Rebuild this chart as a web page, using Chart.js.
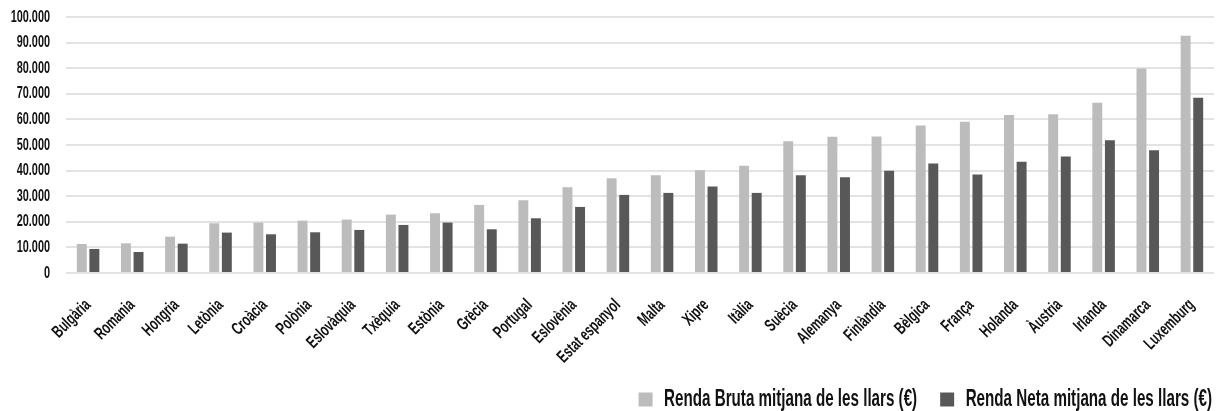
<!DOCTYPE html>
<html><head><meta charset="utf-8">
<script src="https://cdn.jsdelivr.net/npm/chart.js@4"></script>
<style>html,body{margin:0;padding:0;background:#fff}#wrap{width:1216px;height:411px;position:relative}</style>
</head><body><div id="wrap"><canvas id="c"></canvas></div>
<script>
const categories = ["Bulgària","Romania","Hongria","Letònia","Croàcia","Polònia","Eslovàquia","Txèquia","Estònia","Grècia","Portugal","Eslovènia","Estat espanyol","Malta","Xipre","Itàlia","Suècia","Alemanya","Finlàndia","Bèlgica","França","Holanda","Àustria","Irlanda","Dinamarca","Luxemburg"];
const grossIncome = [11340,11600,14200,19430,19690,20470,20860,22820,23340,26600,28420,33510,37030,38200,40160,41850,51500,53190,53320,57630,59060,61670,62060,66490,79920,92700];
const netIncome = [9390,8210,11470,15780,15120,15900,16820,18770,19690,17080,21380,25810,30510,31290,33770,31290,38200,37420,39900,42760,38460,43420,45500,51890,47980,68450];
const seriesNames = ["Renda Bruta mitjana de les llars (€)","Renda Neta mitjana de les llars (€)"];
const yTicks = [0,10000,20000,30000,40000,50000,60000,70000,80000,90000,100000];

const FONT = "'Liberation Sans', Arial, sans-serif";
const SX = 0.66; // horizontal squeeze to imitate the condensed typeface
function fmt(v){return String(v).replace(/\B(?=(\d{3})+(?!\d))/g,'.');}

const condense = {
  id:'condense',
  beforeInit(chart){
    const ctx = chart.ctx;
    const of = ctx.fillText.bind(ctx), om = ctx.measureText.bind(ctx);
    ctx.fillText = function(t,x,y,mw){
      ctx.save(); ctx.translate(x,y); ctx.scale(SX,1);
      if(mw!==undefined) of(t,0,0,mw/SX); else of(t,0,0);
      ctx.restore();
    };
    ctx.measureText = function(t){
      const m = om(t);
      return {width:m.width*SX, actualBoundingBoxAscent:m.actualBoundingBoxAscent, actualBoundingBoxDescent:m.actualBoundingBoxDescent, actualBoundingBoxLeft:m.actualBoundingBoxLeft*SX, actualBoundingBoxRight:m.actualBoundingBoxRight*SX};
    };
  },
  beforeUpdate(chart){
    const lg = chart.legend;
    if(lg && !lg._wrapped){
      const f = lg.fit.bind(lg), d = lg.draw.bind(lg);
      lg.fit = function(){ f(); this.height = 46; };
      lg.draw = function(){ this.right += 21; d(); this.right -= 21; };
      lg._wrapped = true;
    }
  }
};

new Chart(document.getElementById('c'),{
  type:'bar',
  data:{labels:categories,datasets:[
    {label:seriesNames[0],data:grossIncome,backgroundColor:'#bcbcbc',categoryPercentage:0.57,barPercentage:0.79},
    {label:seriesNames[1],data:netIncome,backgroundColor:'#585858',categoryPercentage:0.57,barPercentage:0.79}
  ]},
  plugins:[condense],
  options:{
    responsive:true,maintainAspectRatio:false,animation:false,
    layout:{padding:{top:17,right:2,left:0,bottom:0}},
    plugins:{
      tooltip:{enabled:false},
      legend:{position:'bottom',align:'end',labels:{boxWidth:14,boxHeight:14,padding:23,color:'#111',font:{family:FONT,size:23,weight:'bold'}}}
    },
    scales:{
      x:{grid:{display:false},border:{display:false},
         afterFit(s){s.height=92; s.paddingLeft=0; s.paddingRight=0;},
         ticks:{maxRotation:45,minRotation:45,color:'#111',padding:14,font:{family:FONT,size:17.5,weight:'bold'},autoSkip:false}},
      y:{min:0,max:100000,border:{display:false},
         afterFit(s){s.width=66; s.paddingTop=0; s.paddingBottom=0;},
         afterBuildTicks(s){s.ticks=yTicks.map(v=>({value:v}));},
         grid:{color:'#e3e3e3',lineWidth:2,drawTicks:false},
         ticks:{padding:16,color:'#111',font:{family:FONT,size:16.5,weight:'bold'},callback:v=>fmt(v)}}
    }
  }
});
</script></body></html>
